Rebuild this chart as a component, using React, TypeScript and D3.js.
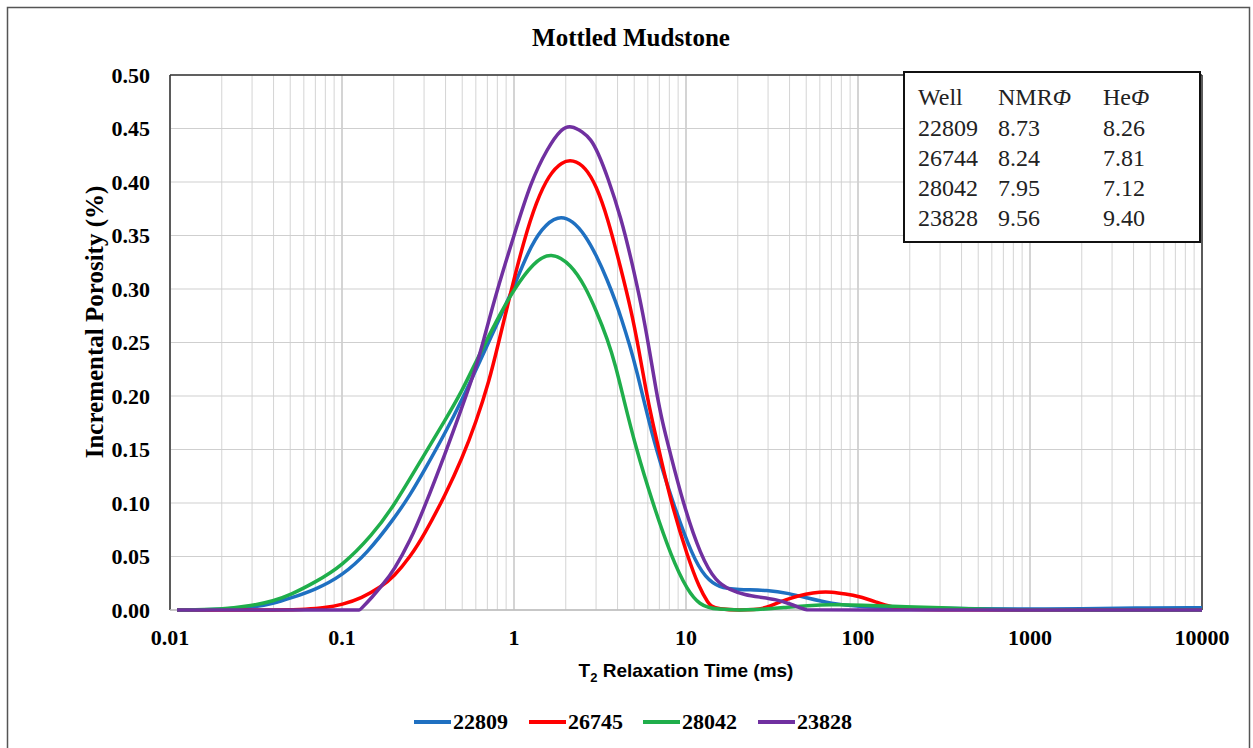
import React from "react";
import * as d3 from "d3";

// ---- Data ----
const wells = ["22809", "26745", "28042", "23828"];
const colors = ["#1f70c1", "#ff0000", "#1fae4b", "#7030a0"];

const t2_22809 = [0.011, 0.02, 0.03, 0.04, 0.05, 0.07, 0.1, 0.14, 0.2, 0.25, 0.3, 0.4, 0.5, 0.64, 0.8, 1.0, 1.2, 1.45, 1.8, 2.2, 2.6, 3.0, 3.5, 3.9, 4.2, 4.7, 5.2, 5.8, 6.7, 8.4, 10.9, 13, 15.5, 20, 30, 40, 50, 70, 100, 200, 500, 1000, 2000, 4000, 10000];
const por_22809 = [0, 0.0005, 0.0025, 0.006, 0.011, 0.019, 0.032, 0.053, 0.085, 0.108, 0.13, 0.166, 0.197, 0.234, 0.268, 0.302, 0.334, 0.357, 0.369, 0.364, 0.35, 0.332, 0.308, 0.288, 0.273, 0.248, 0.222, 0.19, 0.15, 0.10, 0.05, 0.03, 0.021, 0.019, 0.0186, 0.0154, 0.0115, 0.006, 0.003, 0.002, 0.001, 0.001, 0.001, 0.002, 0.002];

const t2_26745 = [0.011, 0.05, 0.06, 0.08, 0.1, 0.13, 0.17, 0.2, 0.25, 0.3, 0.4, 0.5, 0.6, 0.72, 0.8, 0.95, 1.14, 1.35, 1.6, 1.9, 2.2, 2.6, 3.0, 3.5, 4.2, 4.8, 5.3, 5.85, 6.4, 7.0, 8.2, 10.2, 12, 13.4, 14.5, 27, 30, 40, 50, 60, 70, 85, 100, 130, 155, 186, 220, 10000];
const por_26745 = [0, 0, 0.0005, 0.002, 0.005, 0.011, 0.022, 0.031, 0.05, 0.07, 0.108, 0.142, 0.175, 0.215, 0.245, 0.295, 0.345, 0.382, 0.407, 0.419, 0.421, 0.414, 0.397, 0.367, 0.318, 0.28, 0.245, 0.205, 0.175, 0.148, 0.10, 0.05, 0.02, 0.007, 0, 0, 0.003, 0.011, 0.015, 0.017, 0.017, 0.015, 0.013, 0.007, 0.003, 0.001, 0, 0];

const t2_28042 = [0.011, 0.02, 0.03, 0.04, 0.05, 0.07, 0.1, 0.15, 0.2, 0.3, 0.4, 0.5, 0.6, 0.8, 1.0, 1.3, 1.64, 2.15, 2.6, 3.0, 3.5, 3.9, 4.3, 5.1, 6.4, 8.2, 10.2, 12, 14.5, 27, 40, 50, 70, 100, 200, 300, 500, 700, 10000];
const por_28042 = [0, 0.0005, 0.004, 0.0085, 0.014, 0.026, 0.041, 0.07, 0.097, 0.145, 0.178, 0.205, 0.232, 0.272, 0.30, 0.325, 0.335, 0.323, 0.302, 0.28, 0.253, 0.228, 0.20, 0.152, 0.10, 0.05, 0.018, 0.005, 0, 0, 0.003, 0.004, 0.005, 0.0048, 0.003, 0.002, 0.001, 0, 0];

const t2_23828 = [0.011, 0.12, 0.127, 0.127, 0.15, 0.175, 0.2, 0.25, 0.3, 0.4, 0.5, 0.6, 0.66, 0.8, 1.0, 1.25, 1.57, 1.88, 2.15, 2.5, 2.8, 3.07, 3.5, 4.2, 4.8, 5.5, 6.1, 6.7, 7.3, 8.0, 9.6, 12.2, 15, 18, 22, 27, 33, 40, 48, 50, 55, 10000];
const por_23828 = [0, 0, 0, 0, 0.012, 0.025, 0.037, 0.065, 0.095, 0.147, 0.19, 0.226, 0.25, 0.30, 0.35, 0.40, 0.432, 0.45, 0.453, 0.447, 0.44, 0.428, 0.405, 0.366, 0.328, 0.285, 0.245, 0.205, 0.175, 0.15, 0.10, 0.05, 0.026, 0.019, 0.014, 0.012, 0.010, 0.006, 0.001, 0, 0, 0];

const seriesT2 = [t2_22809, t2_26745, t2_28042, t2_23828];
const seriesPor = [por_22809, por_26745, por_28042, por_23828];

const xTickValues = [0.01, 0.1, 1, 10, 100, 1000, 10000];
const xTickLabels = ["0.01", "0.1", "1", "10", "100", "1000", "10000"];
const yTickValues = [0, 0.05, 0.1, 0.15, 0.2, 0.25, 0.3, 0.35, 0.4, 0.45, 0.5];

const tableHeader = ["Well", "NMR", "He"];
const tableWells = ["22809", "26744", "28042", "23828"];
const tableNmr = ["8.73", "8.24", "7.95", "9.56"];
const tableHe = ["8.26", "7.81", "7.12", "9.40"];

const title = "Mottled Mudstone";
const yTitle = "Incremental Porosity (%)";

// ---- Layout ----
const W = 1253;
const H = 748;
const plot = { left: 170, right: 1202, top: 75, bottom: 610 };
const serif = "'Liberation Serif', 'Times New Roman', serif";
const sans = "'Liberation Sans', Arial, sans-serif";

export default function App() {
  const x = d3.scaleLog().domain([0.01, 10000]).range([plot.left, plot.right]);
  const y = d3.scaleLinear().domain([0, 0.5]).range([plot.bottom, plot.top]);

  const minor: number[] = [];
  for (let e = -2; e < 4; e++) {
    for (let k = 2; k <= 9; k++) minor.push(k * Math.pow(10, e));
  }

  const line = d3
    .line<[number, number]>()
    .x((d) => x(d[0]))
    .y((d) => y(d[1]))
    .curve(d3.curveBasis);

  const legendX = [414, 529, 643, 758];
  const colX = [918, 998, 1103];
  const rowY = [105, 136, 166, 196, 226];

  return (
    <svg
      width={W}
      height={H}
      style={{ position: "absolute", left: 0, top: 0, background: "#fff" }}
    >
      <rect x={0} y={0} width={W} height={H} fill="#fff" />
      {/* outer border */}
      <rect x={7.5} y={7.5} width={1242} height={770} fill="none" stroke="#555" strokeWidth={1.5} />

      {/* title */}
      <text x={631} y={46} textAnchor="middle" fontFamily={serif} fontWeight="bold" fontSize={25}>
        {title}
      </text>

      {/* minor vertical grid */}
      {minor.map((v, i) => (
        <line key={"mv" + i} x1={x(v)} x2={x(v)} y1={plot.top} y2={plot.bottom} stroke="#d4d4d4" strokeWidth={1} />
      ))}
      {/* major vertical grid */}
      {xTickValues.map((v, i) => (
        <line key={"Mv" + i} x1={x(v)} x2={x(v)} y1={plot.top} y2={plot.bottom} stroke="#b8b8b8" strokeWidth={1.2} />
      ))}
      {/* horizontal grid */}
      {yTickValues.map((v, i) => (
        <line key={"h" + i} x1={plot.left} x2={plot.right} y1={y(v)} y2={y(v)} stroke="#cfcfcf" strokeWidth={1.2} />
      ))}

      {/* plot frame */}
      <line x1={plot.left} x2={plot.right} y1={plot.top} y2={plot.top} stroke="#333" strokeWidth={1.5} />
      <line x1={plot.left} x2={plot.left} y1={plot.top} y2={plot.bottom} stroke="#333" strokeWidth={1.5} />
      <line x1={plot.right} x2={plot.right} y1={plot.top} y2={plot.bottom} stroke="#333" strokeWidth={1.5} />
      <line x1={plot.left} x2={plot.right} y1={plot.bottom} y2={plot.bottom} stroke="#bdbdbd" strokeWidth={1.5} />

      {/* y ticks */}
      {yTickValues.map((v, i) => (
        <text key={"yt" + i} x={150} y={y(v)} dy="0.35em" textAnchor="end" fontFamily={serif} fontWeight="bold" fontSize={22}>
          {v.toFixed(2)}
        </text>
      ))}
      {/* x ticks */}
      {xTickValues.map((v, i) => (
        <text key={"xt" + i} x={x(v)} y={645} textAnchor="middle" fontFamily={serif} fontWeight="bold" fontSize={22}>
          {xTickLabels[i]}
        </text>
      ))}

      {/* axis titles */}
      <text x={686} y={677} textAnchor="middle" fontFamily={sans} fontWeight="bold" fontSize={19}>
        T<tspan fontSize={13} dy={5}>2</tspan>
        <tspan dy={-5}> Relaxation Time (ms)</tspan>
      </text>
      <text
        transform={`translate(103, 322) rotate(-90)`}
        textAnchor="middle"
        fontFamily={serif}
        fontWeight="bold"
        fontSize={25}
      >
        {yTitle}
      </text>

      {/* series */}
      <g>
        {seriesT2.map((ts, si) => {
          const pts: [number, number][] = ts.map((t, j) => [t, seriesPor[si][j]]);
          return (
            <path key={"s" + si} d={line(pts) || ""} fill="none" stroke={colors[si]} strokeWidth={3.5} strokeLinejoin="round" />
          );
        })}
      </g>

      {/* table legend */}
      <rect x={904} y={72} width={296} height={170} fill="#fff" stroke="#111" strokeWidth={2} />
      <g fontFamily={serif} fontSize={24} fill="#222">
        <text x={colX[0]} y={rowY[0]}>{tableHeader[0]}</text>
        <text x={colX[1]} y={rowY[0]}>
          {tableHeader[1]}
          <tspan fontStyle="italic">Φ</tspan>
        </text>
        <text x={colX[2]} y={rowY[0]}>
          {tableHeader[2]}
          <tspan fontStyle="italic">Φ</tspan>
        </text>
        {tableWells.map((w, i) => (
          <g key={"tr" + i}>
            <text x={colX[0]} y={rowY[i + 1]}>{w}</text>
            <text x={colX[1]} y={rowY[i + 1]}>{tableNmr[i]}</text>
            <text x={colX[2]} y={rowY[i + 1]}>{tableHe[i]}</text>
          </g>
        ))}
      </g>

      {/* bottom legend */}
      {wells.map((w, i) => (
        <g key={"lg" + i}>
          <line x1={legendX[i]} x2={legendX[i] + 37} y1={722} y2={722} stroke={colors[i]} strokeWidth={4} />
          <text x={legendX[i] + 39} y={729} fontFamily={serif} fontWeight="bold" fontSize={22}>
            {w}
          </text>
        </g>
      ))}
    </svg>
  );
}
